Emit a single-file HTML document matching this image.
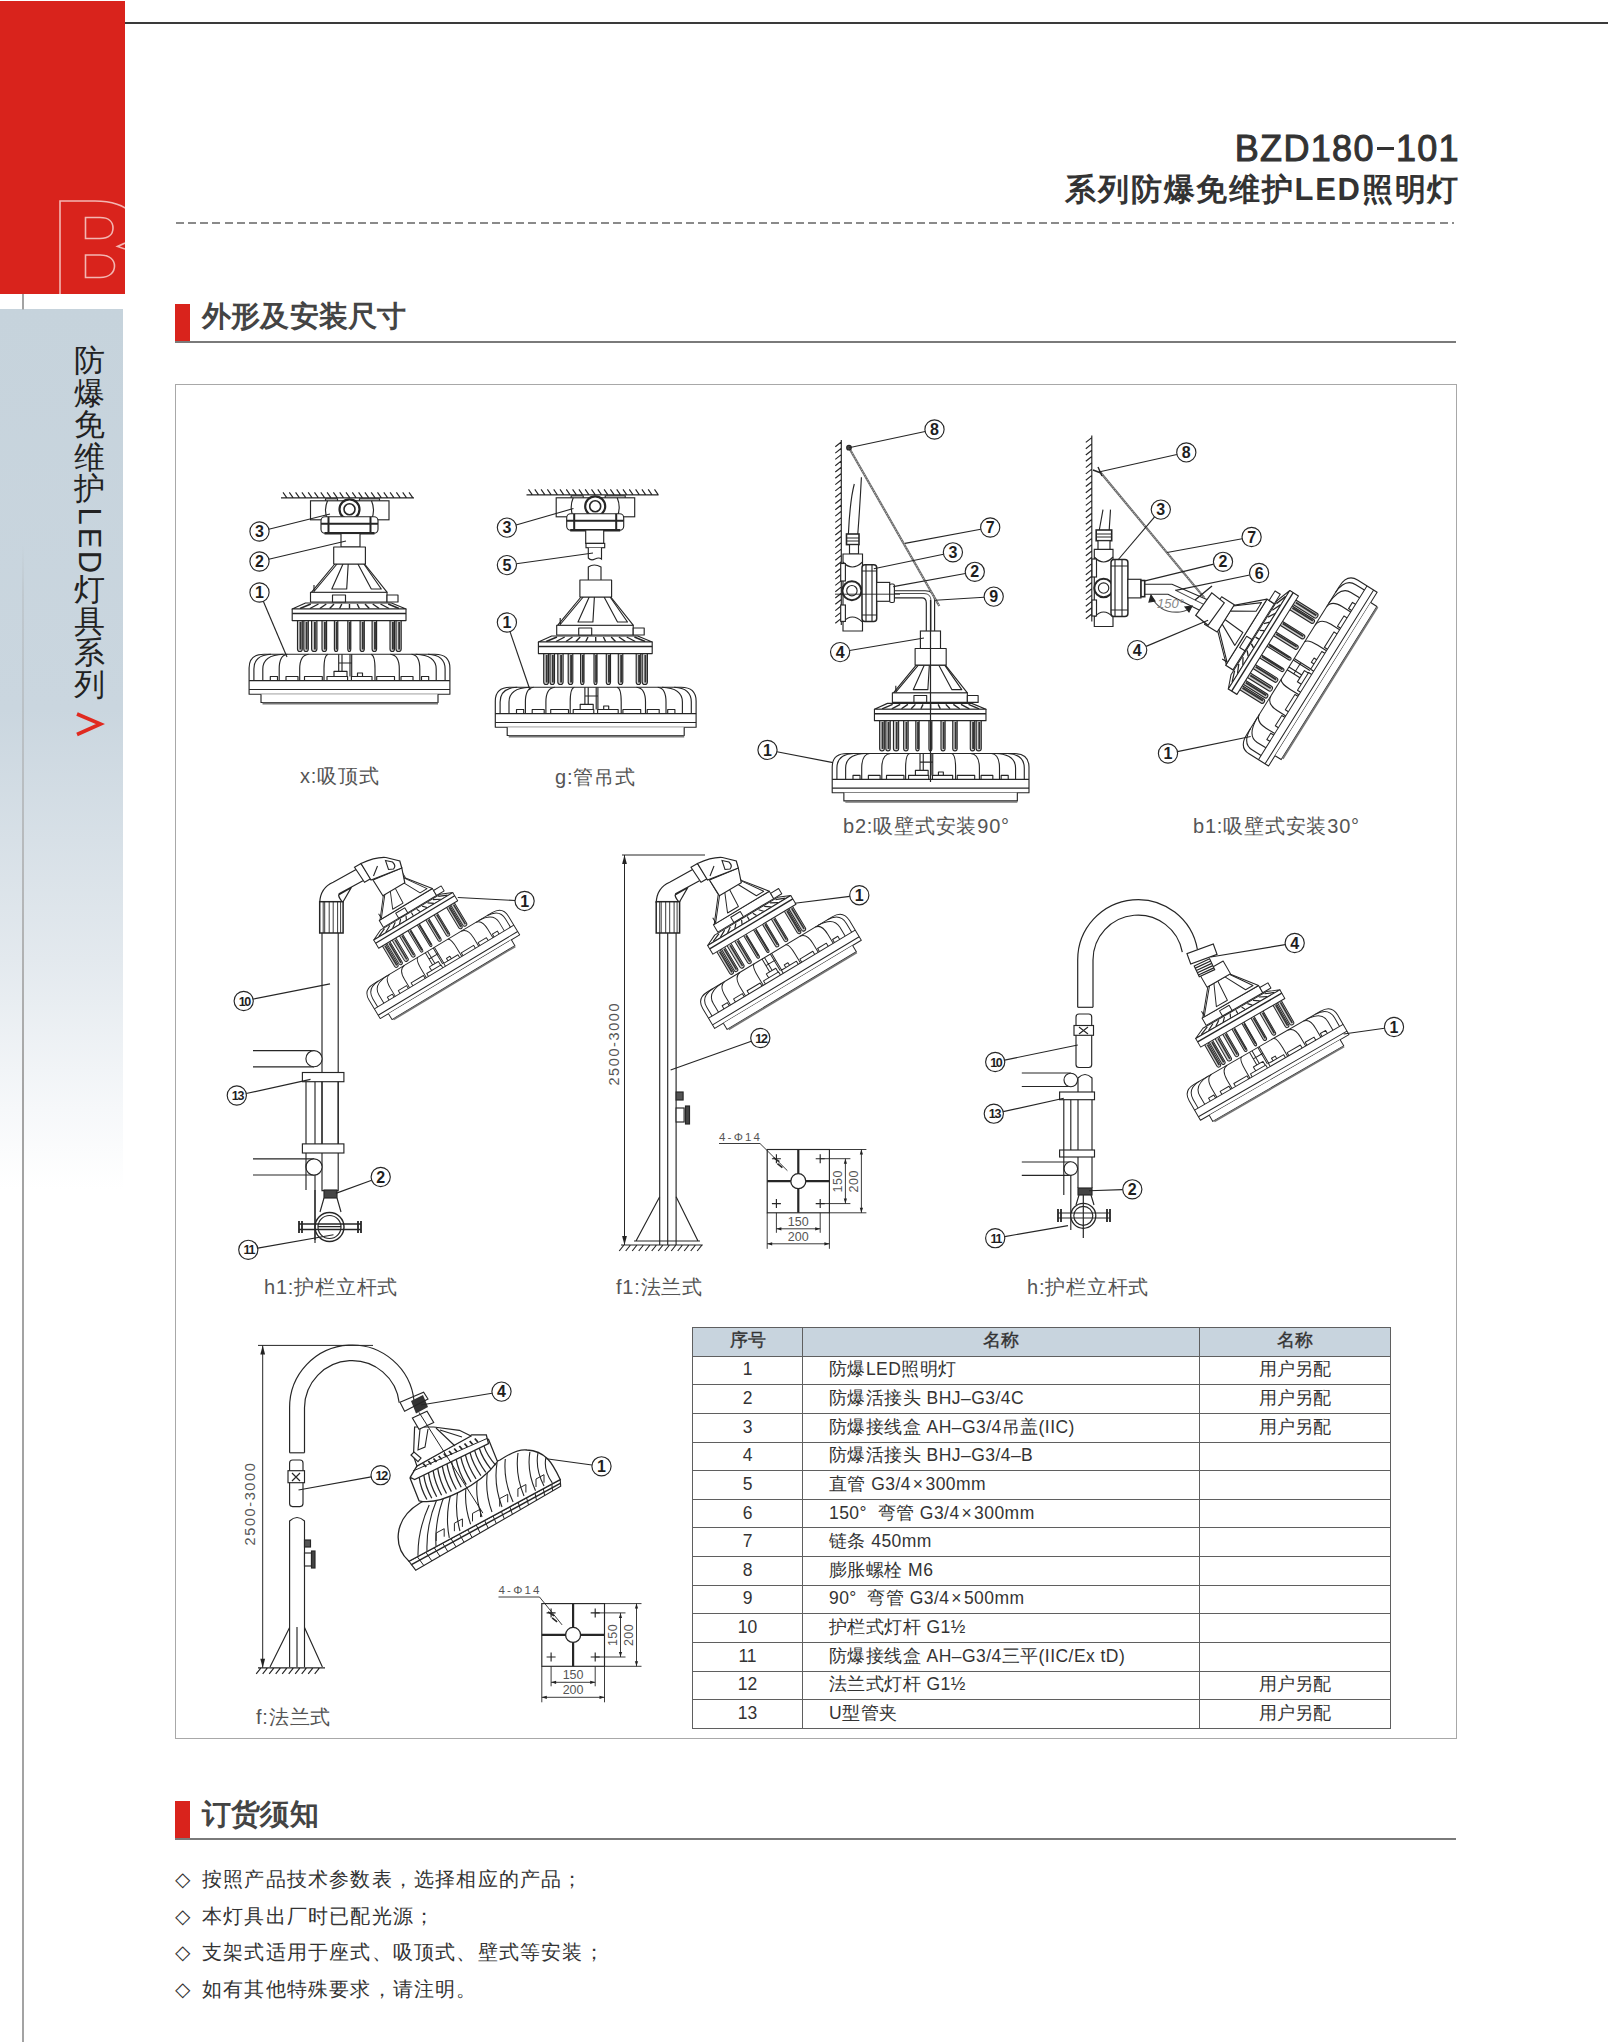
<!DOCTYPE html>
<html><head><meta charset="utf-8">
<style>
*{margin:0;padding:0;box-sizing:border-box}
html,body{width:1608px;height:2042px;overflow:hidden;background:#fff}
body{position:relative;font-family:"Liberation Sans",sans-serif;color:#333}
.abs{position:absolute}
#redblk{left:0;top:1px;width:125px;height:293px;background:#d9231c}
#topline{left:125px;top:22px;width:1483px;height:2px;background:#3a3a3a}
#vline{left:22px;top:294px;width:2px;height:1748px;background:linear-gradient(to bottom,#a3a3a3 0,#a3a3a3 15px,rgba(163,163,163,0) 16px,rgba(163,163,163,0) 250px,rgba(163,163,163,0.25) 300px,#a3a3a3 800px)}
#side{left:0;top:309px;width:123px;height:880px;background:linear-gradient(to bottom,#c6d3dc 0px,#cad6df 400px,#e3e9ee 650px,#f6f8fa 800px,#ffffff 880px)}
.sg{position:absolute;left:64px;width:50px;height:40px;line-height:40px;text-align:center;font-size:31px;color:#222}
.sg.r{transform:rotate(90deg)}
.ttl1{right:148px;top:127.5px;font-size:36px;font-weight:normal;-webkit-text-stroke:1px #333;color:#333;letter-spacing:1.35px}
.ttl2{right:148px;top:168.5px;font-size:31px;font-weight:bold;color:#333;letter-spacing:1.75px}
#dash{left:176px;top:222px;width:1278px;height:2px;background:repeating-linear-gradient(to right,#8a8a8a 0 8px,transparent 8px 12.15px)}
.secbar{width:15px;height:38px;background:#d9231c}
.secline{height:2px;background:#7a7a7a}
.sectxt{font-size:29px;color:#444;font-weight:bold;letter-spacing:0.2px}
#box{left:175px;top:384px;width:1282px;height:1355px;border:1.5px solid #a8a8a8}
.cap{font-size:20px;color:#555;white-space:nowrap;letter-spacing:0.8px}
.bul{left:175px;font-size:20px;color:#333;letter-spacing:1.2px;white-space:nowrap}
.bul i{font-style:normal;display:inline-block;width:27px}
table{position:absolute;left:692px;top:1327px;width:699px;border-collapse:collapse;font-size:17.5px;color:#333}
td,th{border:1.3px solid #5f5f5f;height:28.64px;padding:0 0 2px 0;font-weight:normal;line-height:22px}
th{background:#c8d4de;-webkit-text-stroke:0.35px #333;padding-bottom:3px}
td.c{text-align:center}
td.l{padding-left:26px;text-align:left;letter-spacing:0.45px}
svg{position:absolute;left:0;top:0}
</style></head><body>
<div id="redblk" class="abs"></div>
<div id="topline" class="abs"></div>
<div id="side" class="abs"></div>
<div id="vline" class="abs"></div>
<svg width="1608" height="2042" viewBox="0 0 1608 2042" style="z-index:1">
<clipPath id="bclip"><rect x="0" y="0" width="125" height="294"/></clipPath>
<g fill="none" stroke="#f3b6b2" stroke-width="1.6" clip-path="url(#bclip)">
<path d="M60 294 V201 H95 C112 201 125 206 130 212"/>
<path d="M85.5 217.5 H100 C109 217.5 113 222 113 228 C113 234 109 238.5 100 238.5 H85.5 Z"/>
<path d="M85.5 255 H100 C110 255 114.5 260 114.5 266 C114.5 272 110 277.5 100 277.5 H85.5 Z"/>
<path d="M125 243 L117.5 246.5 L125 249"/>
</g>
<path d="M77 714 L100.5 724 L77 734.5" fill="none" stroke="#e02a20" stroke-width="3.6" stroke-linejoin="miter"/>
</svg>
<div class="sg" style="top:340.9px">防</div><div class="sg" style="top:373.5px">爆</div><div class="sg" style="top:404.5px">免</div><div class="sg" style="top:437.5px">维</div><div class="sg" style="top:469.2px">护</div><div class="sg r" style="top:495.9px">L</div><div class="sg r" style="top:517.5px">E</div><div class="sg r" style="top:542.0px">D</div><div class="sg" style="top:569.5px">灯</div><div class="sg" style="top:602.2px">具</div><div class="sg" style="top:633.0px">系</div><div class="sg" style="top:664.9px">列</div>

<div class="abs ttl1">BZD180<span style="display:inline-block;width:17px;height:2.8px;background:#333;vertical-align:11px;margin:0 2px"></span>101</div>
<div class="abs ttl2">系列防爆免维护LED照明灯</div>
<div id="dash" class="abs"></div>

<div class="abs secbar" style="left:175px;top:304px"></div>
<div class="abs secline" style="left:175px;top:341px;width:1281px"></div>
<div class="abs sectxt" style="left:202px;top:297px">外形及安装尺寸</div>

<div id="box" class="abs"></div>

<div class="abs secbar" style="left:175px;top:1801px"></div>
<div class="abs secline" style="left:175px;top:1838px;width:1281px"></div>
<div class="abs sectxt" style="left:202px;top:1795px">订货须知</div>

<div class="abs bul" style="top:1866px"><i>◇</i>按照产品技术参数表，选择相应的产品；</div>
<div class="abs bul" style="top:1903px"><i>◇</i>本灯具出厂时已配光源；</div>
<div class="abs bul" style="top:1939px"><i>◇</i>支架式适用于座式、吸顶式、壁式等安装；</div>
<div class="abs bul" style="top:1976px"><i>◇</i>如有其他特殊要求，请注明。</div>

<table>
<tr><th style="width:110px">序号</th><th style="width:397px">名称</th><th>名称</th></tr>
<tr><td class="c">1</td><td class="l">防爆LED照明灯</td><td class="c">用户另配</td></tr>
<tr><td class="c">2</td><td class="l">防爆活接头 BHJ–G3/4C</td><td class="c">用户另配</td></tr>
<tr><td class="c">3</td><td class="l">防爆接线盒 AH–G3/4吊盖(IIC)</td><td class="c">用户另配</td></tr>
<tr><td class="c">4</td><td class="l">防爆活接头 BHJ–G3/4–B</td><td class="c"></td></tr>
<tr><td class="c">5</td><td class="l">直管 G3/4&#8202;×&#8202;300mm</td><td class="c"></td></tr>
<tr><td class="c">6</td><td class="l">150°&nbsp; 弯管 G3/4&#8202;×&#8202;300mm</td><td class="c"></td></tr>
<tr><td class="c">7</td><td class="l">链条 450mm</td><td class="c"></td></tr>
<tr><td class="c">8</td><td class="l">膨胀螺栓 M6</td><td class="c"></td></tr>
<tr><td class="c">9</td><td class="l">90°&nbsp; 弯管 G3/4&#8202;×&#8202;500mm</td><td class="c"></td></tr>
<tr><td class="c">10</td><td class="l">护栏式灯杆 G1½</td><td class="c"></td></tr>
<tr><td class="c">11</td><td class="l">防爆接线盒 AH–G3/4三平(IIC/Ex tD)</td><td class="c"></td></tr>
<tr><td class="c">12</td><td class="l">法兰式灯杆 G1½</td><td class="c">用户另配</td></tr>
<tr><td class="c">13</td><td class="l">U型管夹</td><td class="c">用户另配</td></tr>
</table>

<svg width="1608" height="2042" viewBox="0 0 1608 2042" style="z-index:2">
<defs><g id="lamp" stroke="#262626" stroke-width="1.15" fill="#fff" stroke-linejoin="round">
<path d="M-52.0 73.6 V102 Q-52.0 104.5 -49.6 104.5 Q-47.2 104.5 -47.2 102 V73.6" fill="#cfcfcf"/>
<path d="M-49.0 75 V102.5" fill="none" stroke-width="1.9" stroke="#333"/>
<path d="M-45.7 73.6 V102 Q-45.7 104.5 -43.5 104.5 Q-41.2 104.5 -41.2 102 V73.6" fill="#cfcfcf"/>
<path d="M-42.9 75 V102.5" fill="none" stroke-width="1.9" stroke="#333"/>
<path d="M-37.9 73.6 V102 Q-37.9 104.5 -35.2 104.5 Q-32.6 104.5 -32.6 102 V73.6" fill="#cfcfcf"/>
<path d="M-34.6 75 V102.5" fill="none" stroke-width="1.9" stroke="#333"/>
<path d="M-27.5 73.6 V102 Q-27.5 104.5 -25.2 104.5 Q-22.9 104.5 -22.9 102 V73.6" fill="#cfcfcf"/>
<path d="M-24.6 75 V102.5" fill="none" stroke-width="1.9" stroke="#333"/>
<path d="M-15.1 73.6 V102 Q-15.1 104.5 -13.4 104.5 Q-11.7 104.5 -11.7 102 V73.6" fill="#cfcfcf"/>
<path d="M-12.8 75 V102.5" fill="none" stroke-width="1.9" stroke="#333"/>
<path d="M-1.7 73.6 V102 Q-1.7 104.5 -0.2 104.5 Q1.3 104.5 1.3 102 V73.6" fill="#cfcfcf"/>
<path d="M0.4 75 V102.5" fill="none" stroke-width="1.9" stroke="#333"/>
<path d="M10.6 73.6 V102 Q10.6 104.5 12.7 104.5 Q14.8 104.5 14.8 102 V73.6" fill="#cfcfcf"/>
<path d="M13.3 75 V102.5" fill="none" stroke-width="1.9" stroke="#333"/>
<path d="M22.6 73.6 V102 Q22.6 104.5 24.9 104.5 Q27.1 104.5 27.1 102 V73.6" fill="#cfcfcf"/>
<path d="M25.5 75 V102.5" fill="none" stroke-width="1.9" stroke="#333"/>
<path d="M40.5 73.6 V102 Q40.5 104.5 42.8 104.5 Q45.0 104.5 45.0 102 V73.6" fill="#cfcfcf"/>
<path d="M43.4 75 V102.5" fill="none" stroke-width="1.9" stroke="#333"/>
<path d="M46.5 73.6 V102 Q46.5 104.5 49.1 104.5 Q51.7 104.5 51.7 102 V73.6" fill="#cfcfcf"/>
<path d="M49.7 75 V102.5" fill="none" stroke-width="1.9" stroke="#333"/>
<path d="M-100.4 147.2 V121 Q-100.4 107.2 -85.3 107.2 H85.3 Q100.4 107.2 100.4 121 V147.2 Z"/>
<path d="M-100.4 133.6 H100.4 M-100.4 142.5 H100.4" fill="none"/>
<path d="M-95.6 133.6 V122 Q-95.6 108 -78.5 107.2 M95.6 133.6 V122 Q95.6 108 78.5 107.2 M-86.7 133.6 V122 Q-86.7 108 -66.2 107.2 M86.7 133.6 V122 Q86.7 108 66.2 107.2 M-70.3 133.6 V122 Q-70.3 108 -62.1 107.2 M70.3 133.6 V122 Q70.3 108 62.1 107.2 M-49.8 133.6 V122 Q-49.8 108 -40.9 107.2 M49.8 133.6 V122 Q49.8 108 40.9 107.2 M-25.5 133.6 V122 Q-25.5 108 -21.4 107.2 M25.5 133.6 V122 Q25.5 108 21.4 107.2 " fill="none"/>
<path d="M-79.2 133.6 V129.5 H-72.0 V133.6 M-63.5 133.6 V129.5 H-51.5 V133.6 M-45.0 133.6 V129.5 H-27.2 V133.6 M-22.5 133.6 V129.5 H-1.9 V133.6 M1.9 133.6 V129.5 H22.5 V133.6 M27.2 133.6 V129.5 H45.0 V133.6 M51.5 133.6 V129.5 H63.5 V133.6 M72.0 133.6 V129.5 H79.2 V133.6 M-15.5 129.5 V124.3 H-2.5 V129.5 M-10.8 107.2 V124.3 M-7.5 107.2 V124.3 M0.5 107.2 V129.5 M2.2 107.2 V129.5 M-10.8 116 H2.2 M8 129.5 V126 H13 V129.5" fill="none"/>
<path d="M-88.5 147.2 V155.5 H88.5 V147.2" />
<path d="M-87 156.5 H88.5" fill="none" stroke="#777" stroke-width="2"/>
<path d="M-57.3 62 L-44 56 H42 L56.5 62 Z"/>
<path d="M-38.7 57 L-49.5 61.5 M-31.0 57 L-39.6 61.5 M-23.2 57 L-29.7 61.5 M-15.5 57 L-19.8 61.5 M-7.7 57 L-9.9 61.5 M0.0 57 L0.0 61.5 M7.7 57 L9.9 61.5 M15.5 57 L19.8 61.5 M23.2 57 L29.7 61.5 M31.0 57 L39.6 61.5 M38.7 57 L49.5 61.5 " fill="none" stroke-width="1.4"/>
<rect x="-57.3" y="62" width="113.8" height="11.6"/>
<path d="M-57.3 66.5 H56.5" fill="none" stroke-width="1.6"/>
<rect x="-39" y="45.2" width="76.5" height="9.8"/>
<rect x="37.5" y="48" width="11" height="7"/>
<rect x="-17" y="48" width="13" height="7"/>
<path d="M-14.7 17 H15.1 L37.5 45.2 H-37.9 Z"/>
<path d="M-6.5 17 L-17.7 42 H-2.8 L-1.3 17 M8.4 17 L21.8 42 H31.8 L14.4 17 M-12.5 17 L-35.5 44.5 M-35.5 38 V45" fill="none"/>
<rect x="-15.8" y="0" width="31.7" height="17"/>
</g></defs>
<g stroke="#262626" stroke-width="1.15" fill="#fff" font-family="Liberation Sans, sans-serif" font-weight="bold" text-anchor="middle">
<path d="M281.0 497.8 H414.0 M283.0 492.3 L286.9 497.8 M289.3 492.3 L293.2 497.8 M295.6 492.3 L299.5 497.8 M301.9 492.3 L305.8 497.8 M308.2 492.3 L312.1 497.8 M314.5 492.3 L318.4 497.8 M320.8 492.3 L324.7 497.8 M327.1 492.3 L331.0 497.8 M333.4 492.3 L337.3 497.8 M339.7 492.3 L343.6 497.8 M346.0 492.3 L349.9 497.8 M352.3 492.3 L356.2 497.8 M358.6 492.3 L362.5 497.8 M364.9 492.3 L368.8 497.8 M371.2 492.3 L375.1 497.8 M377.5 492.3 L381.4 497.8 M383.8 492.3 L387.7 497.8 M390.1 492.3 L394.0 497.8 M396.4 492.3 L400.3 497.8 M402.7 492.3 L406.6 497.8 M409.0 492.3 L412.9 497.8 " fill="none"/>
<g transform="translate(349.5 497.8)"><rect x="-24" y="1" width="12" height="5"/><rect x="10" y="1" width="20" height="5"/><rect x="-39" y="3" width="78.5" height="19"/><path d="M-22 3 Q-26 12.5 -22 22 M22 3 Q26 12.5 22 22" fill="none"/><circle cx="0" cy="11.5" r="10" stroke-width="2.2"/><circle cx="0" cy="11.5" r="5.5" stroke-width="1.6"/><rect x="-28.5" y="19" width="57" height="16.5" rx="4"/><path d="M-21 19 V35.5 M21 19 V35.5 M-28.5 26 H28.5" fill="none" stroke-width="2"/><path d="M-25 35.5 H25" fill="none" stroke-width="2.5"/></g>
<rect x="341" y="533.5" width="19" height="13.5"/>
<use href="#lamp" transform="translate(349.5 547)"/>
<g fill="#fff">
<line x1="268.8" y1="529.2" x2="330.0" y2="514.0"/><circle cx="259.5" cy="531.5" r="9.6" fill="#fff"/><text x="259.5" y="537.1" letter-spacing="0" fill="#1e1e1e" stroke="none" font-size="16.0">3</text>
<line x1="268.8" y1="559.3" x2="346.0" y2="541.0"/><circle cx="259.5" cy="561.5" r="9.6" fill="#fff"/><text x="259.5" y="567.1" letter-spacing="0" fill="#1e1e1e" stroke="none" font-size="16.0">2</text>
<line x1="263.3" y1="601.3" x2="287.0" y2="657.0"/><circle cx="259.5" cy="592.5" r="9.6" fill="#fff"/><text x="259.5" y="598.1" letter-spacing="0" fill="#1e1e1e" stroke="none" font-size="16.0">1</text>
</g>
<path d="M526.5 494.8 H658.6 M528.5 489.3 L532.4 494.8 M534.8 489.3 L538.6 494.8 M541.1 489.3 L544.9 494.8 M547.4 489.3 L551.2 494.8 M553.7 489.3 L557.5 494.8 M560.0 489.3 L563.8 494.8 M566.3 489.3 L570.1 494.8 M572.6 489.3 L576.4 494.8 M578.9 489.3 L582.7 494.8 M585.2 489.3 L589.0 494.8 M591.5 489.3 L595.3 494.8 M597.8 489.3 L601.6 494.8 M604.1 489.3 L607.9 494.8 M610.4 489.3 L614.2 494.8 M616.7 489.3 L620.5 494.8 M623.0 489.3 L626.8 494.8 M629.3 489.3 L633.1 494.8 M635.6 489.3 L639.4 494.8 M641.9 489.3 L645.7 494.8 M648.2 489.3 L652.0 494.8 M654.5 489.3 L658.3 494.8 " fill="none"/>
<g transform="translate(595.2 494.8)"><rect x="-24" y="1" width="12" height="5"/><rect x="10" y="1" width="20" height="5"/><rect x="-39" y="3" width="78.5" height="19"/><path d="M-22 3 Q-26 12.5 -22 22 M22 3 Q26 12.5 22 22" fill="none"/><circle cx="0" cy="11.5" r="10" stroke-width="2.2"/><circle cx="0" cy="11.5" r="5.5" stroke-width="1.6"/><rect x="-28.5" y="19" width="57" height="16.5" rx="4"/><path d="M-21 19 V35.5 M21 19 V35.5 M-28.5 26 H28.5" fill="none" stroke-width="2"/><path d="M-25 35.5 H25" fill="none" stroke-width="2.5"/></g>
<rect x="585.7" y="530" width="18" height="13.4"/><rect x="586" y="543.4" width="18.7" height="4.3"/>
<path d="M588.3 547.7 V558 Q591 561 595 559 Q599 557 601.5 559 V547.7" />
<path d="M588.3 580 V567 Q594 563 601 567 V580" />
<use href="#lamp" transform="translate(595.7 580)"/>
<line x1="516.1" y1="525.0" x2="573.5" y2="508.5"/><circle cx="506.9" cy="527.6" r="9.6" fill="#fff"/><text x="506.9" y="533.2" letter-spacing="0" fill="#1e1e1e" stroke="none" font-size="16.0">3</text>
<line x1="516.4" y1="563.8" x2="593.0" y2="553.0"/><circle cx="506.9" cy="565.1" r="9.6" fill="#fff"/><text x="506.9" y="570.7" letter-spacing="0" fill="#1e1e1e" stroke="none" font-size="16.0">5</text>
<line x1="510.0" y1="631.6" x2="530.0" y2="690.0"/><circle cx="506.9" cy="622.5" r="9.6" fill="#fff"/><text x="506.9" y="628.1" letter-spacing="0" fill="#1e1e1e" stroke="none" font-size="16.0">1</text>
<path d="M841.3 440.0 V625.0 M835.3 446.8 L841.3 442.0 M835.3 453.1 L841.3 448.3 M835.3 459.4 L841.3 454.6 M835.3 465.7 L841.3 460.9 M835.3 472.0 L841.3 467.2 M835.3 478.3 L841.3 473.5 M835.3 484.6 L841.3 479.8 M835.3 490.9 L841.3 486.1 M835.3 497.2 L841.3 492.4 M835.3 503.5 L841.3 498.7 M835.3 509.8 L841.3 505.0 M835.3 516.1 L841.3 511.3 M835.3 522.4 L841.3 517.6 M835.3 528.7 L841.3 523.9 M835.3 535.0 L841.3 530.2 M835.3 541.3 L841.3 536.5 M835.3 547.6 L841.3 542.8 M835.3 553.9 L841.3 549.1 M835.3 560.2 L841.3 555.4 M835.3 566.5 L841.3 561.7 M835.3 572.8 L841.3 568.0 M835.3 579.1 L841.3 574.3 M835.3 585.4 L841.3 580.6 M835.3 591.7 L841.3 586.9 M835.3 598.0 L841.3 593.2 M835.3 604.3 L841.3 599.5 M835.3 610.6 L841.3 605.8 M835.3 616.9 L841.3 612.1 M835.3 623.2 L841.3 618.4 " fill="none"/>
<path d="M848.4 534 Q850 500 854.3 484 M857.8 534 Q860 505 861.4 477.3" fill="none"/>
<rect x="846.5" y="534" width="12.5" height="10.6" stroke-width="1.6"/><path d="M846.5 538 H859 M846.5 541 H859" fill="none"/>
<rect x="849.5" y="544.6" width="9" height="9.4"/>
<path d="M843 554 H862.5 V631 H843 Z"/>
<path d="M843 562 Q852 572 862.5 562 M843 622 Q852 612 862.5 622" fill="none"/>
<rect x="840.7" y="563.5" width="4.7" height="17.5"/><rect x="840.7" y="605" width="4.7" height="16.4"/>
<circle cx="851.9" cy="590.7" r="9.5" stroke-width="2"/><circle cx="851.9" cy="590.7" r="5.2"/>
<rect x="862" y="564.7" width="14.7" height="56.7" rx="3" stroke-width="1.5"/>
<path d="M866 564.7 V621.4 M872 564.7 V621.4 M862 571 H876.7 M862 615 H876.7" fill="none"/>
<rect x="876.7" y="582.4" width="13" height="18.9"/>
<rect x="889.7" y="584" width="4.7" height="18.5" rx="1.5"/>
<path d="M894.4 590.7 H925 Q934.6 590.7 934.6 600 V631 M894.4 597.8 H922 Q926.3 597.8 926.3 603 V631" fill="none"/>
<path d="M894.4 593.5 H924 Q931 593.5 931 601 V631" fill="none" stroke-width="0.8"/>
<path d="M835 594.2 H900" fill="none" stroke-width="0.9"/>
<path d="M849 447.7 L939.3 606" fill="none" stroke="#666" stroke-width="2.2"/>
<path d="M849 447.7 L939.3 606" fill="none" stroke="#ddd" stroke-width="0.7" stroke-dasharray="1.5 1.5"/>
<circle cx="849" cy="447.7" r="2.3" fill="#444"/>
<rect x="920.4" y="631" width="20.1" height="18.8"/>
<use href="#lamp" transform="translate(930.6 648.5) scale(0.98)"/>
<path d="M930.5 600 V782" fill="none" stroke-width="1.2"/>
<line x1="925.1" y1="431.5" x2="849.0" y2="447.7"/><circle cx="934.5" cy="429.5" r="9.6" fill="#fff"/><text x="934.5" y="435.1" letter-spacing="0" fill="#1e1e1e" stroke="none" font-size="16.0">8</text>
<line x1="980.8" y1="529.3" x2="905.0" y2="543.4"/><circle cx="990.2" cy="527.5" r="9.6" fill="#fff"/><text x="990.2" y="533.1" letter-spacing="0" fill="#1e1e1e" stroke="none" font-size="16.0">7</text>
<line x1="943.5" y1="554.3" x2="873.8" y2="568.8"/><circle cx="952.9" cy="552.3" r="9.6" fill="#fff"/><text x="952.9" y="557.9" letter-spacing="0" fill="#1e1e1e" stroke="none" font-size="16.0">3</text>
<line x1="965.4" y1="573.5" x2="893.3" y2="586.6"/><circle cx="974.8" cy="571.8" r="9.6" fill="#fff"/><text x="974.8" y="577.4" letter-spacing="0" fill="#1e1e1e" stroke="none" font-size="16.0">2</text>
<line x1="984.1" y1="597.2" x2="935.2" y2="600.2"/><circle cx="993.7" cy="596.6" r="9.6" fill="#fff"/><text x="993.7" y="602.2" letter-spacing="0" fill="#1e1e1e" stroke="none" font-size="16.0">9</text>
<line x1="849.6" y1="650.5" x2="924.0" y2="638.0"/><circle cx="840.1" cy="652.1" r="9.6" fill="#fff"/><text x="840.1" y="657.7" letter-spacing="0" fill="#1e1e1e" stroke="none" font-size="16.0">4</text>
<line x1="776.9" y1="751.7" x2="833.0" y2="762.6"/><circle cx="767.5" cy="749.9" r="9.6" fill="#fff"/><text x="767.5" y="755.5" letter-spacing="0" fill="#1e1e1e" stroke="none" font-size="16.0">1</text>
<path d="M1091.8 435.6 V621.5 M1085.8 442.4 L1091.8 437.6 M1085.8 448.7 L1091.8 443.9 M1085.8 455.0 L1091.8 450.2 M1085.8 461.3 L1091.8 456.5 M1085.8 467.6 L1091.8 462.8 M1085.8 473.9 L1091.8 469.1 M1085.8 480.2 L1091.8 475.4 M1085.8 486.5 L1091.8 481.7 M1085.8 492.8 L1091.8 488.0 M1085.8 499.1 L1091.8 494.3 M1085.8 505.4 L1091.8 500.6 M1085.8 511.7 L1091.8 506.9 M1085.8 518.0 L1091.8 513.2 M1085.8 524.3 L1091.8 519.5 M1085.8 530.6 L1091.8 525.8 M1085.8 536.9 L1091.8 532.1 M1085.8 543.2 L1091.8 538.4 M1085.8 549.5 L1091.8 544.7 M1085.8 555.8 L1091.8 551.0 M1085.8 562.1 L1091.8 557.3 M1085.8 568.4 L1091.8 563.6 M1085.8 574.7 L1091.8 569.9 M1085.8 581.0 L1091.8 576.2 M1085.8 587.3 L1091.8 582.5 M1085.8 593.6 L1091.8 588.8 M1085.8 599.9 L1091.8 595.1 M1085.8 606.2 L1091.8 601.4 M1085.8 612.5 L1091.8 607.7 M1085.8 618.8 L1091.8 614.0 " fill="none"/>
<path d="M1099.3 530 L1103 509.6 M1109.2 530 L1110.5 509.6" fill="none"/>
<rect x="1096.2" y="530" width="15.5" height="10.7" stroke-width="1.6"/><path d="M1096.2 534 H1111.7 M1096.2 537 H1111.7" fill="none"/>
<rect x="1098" y="540.7" width="12" height="10"/>
<path d="M1094.3 549.4 H1113 V626.5 H1094.3 Z"/>
<path d="M1094.3 557 Q1103.6 567 1113 557 M1094.3 617 Q1103.6 607 1113 617" fill="none"/>
<rect x="1092" y="559" width="4.5" height="18"/><rect x="1092" y="600" width="4.5" height="16"/>
<circle cx="1103.6" cy="588" r="9.3" stroke-width="2"/><circle cx="1103.6" cy="588" r="5.2"/>
<rect x="1111" y="559.4" width="16.9" height="57.2" rx="3" stroke-width="1.5"/>
<path d="M1115 559.4 V616.6 M1122 559.4 V616.6 M1111 566 H1127.9 M1111 610 H1127.9" fill="none"/>
<rect x="1127.9" y="579.3" width="13.1" height="18.6"/>
<rect x="1141" y="580.5" width="3.7" height="16.2" stroke-width="1.6"/>
<path d="M1144.7 584.2 H1172 L1208 600 M1144.7 594.2 H1168 L1203 612" fill="none"/>
<path d="M1175 590 L1207 606" fill="none" stroke-width="0.9"/>
<path d="M1151 596 Q1160 614 1180 612 Q1188 611 1192 606" fill="none" stroke="#555"/>
<path d="M1151 595 L1149 602 L1155 601 Z M1192 606 L1185 607 L1189 612 Z" fill="#222"/>
<text x="1170.5" y="607.5" fill="#888" stroke="none" font-size="13" font-weight="normal" font-style="italic">150°</text>
<path d="M1099.9 471.7 L1204.4 597.9" fill="none" stroke="#666" stroke-width="2.2"/>
<path d="M1099.9 471.7 L1204.4 597.9" fill="none" stroke="#ddd" stroke-width="0.7" stroke-dasharray="1.5 1.5"/>
<path d="M1093 470 L1101 473 M1098 467 L1102 476 M1195 600 L1212 586" fill="none" stroke-width="1.4"/>
<use href="#lamp" transform="translate(1213 610.5) rotate(-58) scale(1.02 0.88)"/>
<path d="M1195.7 615.3 L1211.8 592.9 L1224.3 602.9 L1208 625.3 Z"/>
<line x1="1176.9" y1="454.5" x2="1099.9" y2="471.7"/><circle cx="1186.3" cy="452.4" r="9.6" fill="#fff"/><text x="1186.3" y="458.0" letter-spacing="0" fill="#1e1e1e" stroke="none" font-size="16.0">8</text>
<line x1="1154.6" y1="516.9" x2="1117.9" y2="560.0"/><circle cx="1160.8" cy="509.6" r="9.6" fill="#fff"/><text x="1160.8" y="515.2" letter-spacing="0" fill="#1e1e1e" stroke="none" font-size="16.0">3</text>
<line x1="1242.2" y1="538.7" x2="1167.0" y2="552.5"/><circle cx="1251.6" cy="537.0" r="9.6" fill="#fff"/><text x="1251.6" y="542.6" letter-spacing="0" fill="#1e1e1e" stroke="none" font-size="16.0">7</text>
<line x1="1213.7" y1="564.1" x2="1144.0" y2="581.1"/><circle cx="1223.0" cy="561.8" r="9.6" fill="#fff"/><text x="1223.0" y="567.4" letter-spacing="0" fill="#1e1e1e" stroke="none" font-size="16.0">2</text>
<line x1="1249.7" y1="575.0" x2="1175.8" y2="590.4"/><circle cx="1259.1" cy="573.0" r="9.6" fill="#fff"/><text x="1259.1" y="578.6" letter-spacing="0" fill="#1e1e1e" stroke="none" font-size="16.0">6</text>
<line x1="1146.1" y1="646.4" x2="1208.1" y2="620.3"/><circle cx="1137.2" cy="650.1" r="9.6" fill="#fff"/><text x="1137.2" y="655.7" letter-spacing="0" fill="#1e1e1e" stroke="none" font-size="16.0">4</text>
<line x1="1177.4" y1="751.6" x2="1250.7" y2="736.5"/><circle cx="1168.0" cy="753.5" r="9.6" fill="#fff"/><text x="1168.0" y="759.1" letter-spacing="0" fill="#1e1e1e" stroke="none" font-size="16.0">1</text>
<path d="M322 932 V1190.6 H338.2 V932 M331 1190.6 V1191" fill="none"/>
<path d="M253 1050.6 H314 M253 1066.8 H314 M253 1158.8 H314 M253 1175 H314" fill="none"/>
<circle cx="314" cy="1058.7" r="8.1" fill="#fff"/><circle cx="314" cy="1167" r="8.1" fill="#fff"/>
<path d="M306 1081.7 V1190 M315 1081.7 V1143.9 M315 1175 V1240" fill="none"/>
<rect x="302.4" y="1072.5" width="41.5" height="9.2" fill="#fff"/><rect x="302.4" y="1143.9" width="41.5" height="9.1" fill="#fff"/>
<path d="M322 1081.7 V1143.9 M338.2 1081.7 V1143.9" fill="none"/>
<rect x="324" y="1190" width="13" height="8" fill="#444"/>
<path d="M324 1198 L320 1212 M337 1198 L341 1212" fill="none"/>
<circle cx="329.5" cy="1227" r="14.5" fill="#fff" stroke-width="1.4"/><circle cx="329.5" cy="1227" r="11.5" fill="none"/>
<path d="M299 1224 H361 M299 1229.5 H361 M318 1226.7 H341" fill="none" stroke-width="1.3"/>
<path d="M299 1221 V1233 M302 1221 V1233 M358 1221 V1233 M361 1221 V1233" fill="none" stroke-width="1.8"/>
<path d="M315 1190 V1243" fill="none"/>
<g transform="translate(-336.5 0)"><path d="M656.2 903 C656.5 893 661 886 669.7 882.3 L693.5 868.9 M679.6 903 C676.5 899 674 896 675.6 893.8 L699.5 880.8 M675.6 894.8 L687.6 887.8 L679.6 901.7" fill="none" stroke-width="1.2"/><rect x="656.2" y="901.7" width="23.4" height="31.3" fill="#fff" stroke-width="1.5"/><path d="M659.7 902 V933 M661.2 902 V933 M665.7 902 V933 M669.7 902 V933 M674.1 902 V933 M677.1 902 V933" fill="none" stroke-width="0.9"/></g>
<use href="#lamp" transform="translate(387 872) rotate(-31) scale(0.81 0.83)"/>
<g transform="translate(-336.5 0)"><path d="M709.5 880 L719.4 895.8 L741.3 882.8 L738.3 868 Z" fill="#fff"/><path d="M691 867.3 L697.5 863.5 L707.5 878.5 L701 882.3 Z" fill="#fff"/><path d="M697.5 863.5 C705 860 715 857 722.4 857.5 L736.3 861 L738.3 868 L707.5 880 Z" fill="#fff" stroke-width="1.2"/><path d="M722 860.5 L729 862 Q733 866 730 869 L725 869.5 Z M714 866 L710 876" fill="none" stroke-width="1.1"/></g>
<line x1="515.0" y1="900.5" x2="457.8" y2="897.5"/><circle cx="524.6" cy="901.0" r="9.6" fill="#fff"/><text x="524.6" y="906.6" letter-spacing="0" fill="#1e1e1e" stroke="none" font-size="16.0">1</text>
<line x1="253.1" y1="999.1" x2="330.0" y2="983.9"/><circle cx="243.7" cy="1001.0" r="9.6" fill="#fff"/><text x="244.3" y="1005.6" letter-spacing="-1.3" fill="#1e1e1e" stroke="none" font-size="12.5">10</text>
<line x1="246.2" y1="1093.5" x2="310.5" y2="1079.4"/><circle cx="236.8" cy="1095.5" r="9.6" fill="#fff"/><text x="237.4" y="1100.1" letter-spacing="-1.3" fill="#1e1e1e" stroke="none" font-size="12.5">13</text>
<line x1="371.7" y1="1180.3" x2="335.8" y2="1193.4"/><circle cx="380.7" cy="1177.0" r="9.6" fill="#fff"/><text x="380.7" y="1182.6" letter-spacing="0" fill="#1e1e1e" stroke="none" font-size="16.0">2</text>
<line x1="257.8" y1="1248.1" x2="333.5" y2="1234.8"/><circle cx="248.3" cy="1249.8" r="9.6" fill="#fff"/><text x="248.9" y="1254.4" letter-spacing="-1.3" fill="#1e1e1e" stroke="none" font-size="12.5">11</text>
<path d="M624.5 855 V1245 M622 855 H705" fill="none" stroke-width="1"/>
<path d="M624.5 855.0 L626.9 864.0 L622.1 864.0 Z" fill="#222" stroke="none"/><path d="M624.5 1245.0 L622.1 1236.0 L626.9 1236.0 Z" fill="#222" stroke="none"/>
<text x="619.0" y="1043.7" transform="rotate(-90 619.0 1043.7)" fill="#555" stroke="none" font-weight="normal" font-size="14.5" letter-spacing="1.6">2500-3000</text>
<path d="M621.0 1245.0 H702.8 M624.0 1245.0 L619.2 1251.0 M630.5 1245.0 L625.7 1251.0 M637.0 1245.0 L632.2 1251.0 M643.5 1245.0 L638.7 1251.0 M650.0 1245.0 L645.2 1251.0 M656.5 1245.0 L651.7 1251.0 M663.0 1245.0 L658.2 1251.0 M669.5 1245.0 L664.7 1251.0 M676.0 1245.0 L671.2 1251.0 M682.5 1245.0 L677.7 1251.0 M689.0 1245.0 L684.2 1251.0 M695.5 1245.0 L690.7 1251.0 M702.0 1245.0 L697.2 1251.0 " fill="none"/>
<path d="M659.7 933 V1245 M676.1 933 V1245 M667.7 933 V1245" fill="none"/>
<path d="M659.7 1196.7 L636 1241 M676.1 1196.7 L698 1241 M634 1241 H700" fill="none"/>
<rect x="676.1" y="1092" width="7" height="8" fill="#555"/><rect x="676.1" y="1108" width="8" height="14" fill="#fff"/><rect x="685.5" y="1106" width="4" height="18" fill="#444"/>
<g transform="translate(0.0 0)"><path d="M656.2 903 C656.5 893 661 886 669.7 882.3 L693.5 868.9 M679.6 903 C676.5 899 674 896 675.6 893.8 L699.5 880.8 M675.6 894.8 L687.6 887.8 L679.6 901.7" fill="none" stroke-width="1.2"/><rect x="656.2" y="901.7" width="23.4" height="31.3" fill="#fff" stroke-width="1.5"/><path d="M659.7 902 V933 M661.2 902 V933 M665.7 902 V933 M669.7 902 V933 M674.1 902 V933 M677.1 902 V933" fill="none" stroke-width="0.9"/></g>
<use href="#lamp" transform="translate(721.5 873.7) rotate(-31) scale(0.852 0.877)"/>
<g transform="translate(0.0 0)"><path d="M709.5 880 L719.4 895.8 L741.3 882.8 L738.3 868 Z" fill="#fff"/><path d="M691 867.3 L697.5 863.5 L707.5 878.5 L701 882.3 Z" fill="#fff"/><path d="M697.5 863.5 C705 860 715 857 722.4 857.5 L736.3 861 L738.3 868 L707.5 880 Z" fill="#fff" stroke-width="1.2"/><path d="M722 860.5 L729 862 Q733 866 730 869 L725 869.5 Z M714 866 L710 876" fill="none" stroke-width="1.1"/></g>
<rect x="767.2" y="1149.5" width="62.2" height="63.3" fill="none"/>
<path d="M798.3 1149.5 V1212.8 M767.2 1181.2 H829.4" fill="none" stroke-width="2.2"/>
<circle cx="798.3" cy="1181.2" r="7.5" fill="#fff" stroke-width="1.3"/>
<path d="M771.9 1158.7 H780.9 M776.4 1154.2 V1163.2 M771.9 1203.6 H780.9 M776.4 1199.1 V1208.1 M815.7 1158.7 H824.7 M820.2 1154.2 V1163.2 M815.7 1203.6 H824.7 M820.2 1199.1 V1208.1 " fill="none"/>
<text x="719.0" y="1140.5" fill="#555" stroke="none" font-weight="normal" font-size="11.5" text-anchor="start" letter-spacing="2.2">4-&#934;14</text>
<path d="M719.0 1143.5 H760.0 L787.4 1170.7" fill="none" stroke-width="0.9"/>
<path d="M773.4 1157.7 L779.4 1161.7 M777.4 1163.7 L782.4 1167.7" fill="none" stroke-width="1.6"/>
<path d="M820.2 1158.7 H850.4 M820.2 1203.6 H850.4 M829.4 1149.5 H866.4 M829.4 1212.8 H866.4 M845.4 1158.7 V1203.6 M861.4 1149.5 V1212.8" fill="none" stroke-width="0.9"/>
<path d="M845.4 1158.7 L847.0 1163.7 L843.8 1163.7 Z" fill="#222" stroke="none"/><path d="M845.4 1203.6 L843.8 1198.6 L847.0 1198.6 Z" fill="#222" stroke="none"/><path d="M861.4 1149.5 L863.0 1154.5 L859.8 1154.5 Z" fill="#222" stroke="none"/><path d="M861.4 1212.8 L859.8 1207.8 L863.0 1207.8 Z" fill="#222" stroke="none"/>
<text x="842.4" y="1181.2" transform="rotate(-90 842.4 1181.2)" fill="#555" stroke="none" font-weight="normal" font-size="12.5" letter-spacing="0.5">150</text><text x="858.4" y="1181.2" transform="rotate(-90 858.4 1181.2)" fill="#555" stroke="none" font-weight="normal" font-size="12.5" letter-spacing="0.5">200</text>
<path d="M776.4 1212.8 V1232.8 M820.2 1212.8 V1232.8 M767.2 1212.8 V1248.8 M829.4 1212.8 V1248.8 M776.4 1228.8 H820.2 M767.2 1243.8 H829.4" fill="none" stroke-width="0.9"/>
<path d="M776.4 1228.8 L781.4 1227.2 L781.4 1230.4 Z" fill="#222" stroke="none"/><path d="M820.2 1228.8 L815.2 1230.4 L815.2 1227.2 Z" fill="#222" stroke="none"/><path d="M767.2 1243.8 L772.2 1242.2 L772.2 1245.4 Z" fill="#222" stroke="none"/><path d="M829.4 1243.8 L824.4 1245.4 L824.4 1242.2 Z" fill="#222" stroke="none"/>
<text x="798.3" y="1225.8" fill="#555" stroke="none" font-weight="normal" font-size="12.5">150</text><text x="798.3" y="1240.8" fill="#555" stroke="none" font-weight="normal" font-size="12.5">200</text>
<line x1="849.8" y1="896.4" x2="794.8" y2="903.3"/><circle cx="859.3" cy="895.2" r="9.6" fill="#fff"/><text x="859.3" y="900.8" letter-spacing="0" fill="#1e1e1e" stroke="none" font-size="16.0">1</text>
<line x1="751.3" y1="1041.2" x2="670.6" y2="1070.0"/><circle cx="760.3" cy="1038.0" r="9.6" fill="#fff"/><text x="760.9" y="1042.6" letter-spacing="-1.3" fill="#1e1e1e" stroke="none" font-size="12.5">12</text>
<path d="M1077.7 1007.3 V960.0 A60.3 60.3 0 0 1 1197.4 949.5 M1093.0 1007.3 V960.0 A45.0 45.0 0 0 1 1182.3 952.2 " fill="none" stroke-width="1.2"/>
<path d="M1077.7 1007.3 H1093" fill="none"/>
<rect x="1076" y="1014" width="15.7" height="53.5" rx="3" fill="#fff"/>
<rect x="1074" y="1025.5" width="19.5" height="9.8" fill="#fff"/><path d="M1079 1027 L1088 1034 M1088 1027 L1079 1034" fill="none"/>
<path d="M1078 1187.9 V1078 Q1085 1071 1092 1078 V1187.9" fill="none"/>
<path d="M1021.8 1073 H1070.8 M1021.8 1086.5 H1070.8 M1021.8 1162 H1070.8 M1021.8 1175.3 H1070.8" fill="none"/>
<circle cx="1070.8" cy="1080" r="6.8" fill="#fff"/><circle cx="1070.8" cy="1168.6" r="6.8" fill="#fff"/>
<rect x="1059.6" y="1092" width="34.9" height="7.7" fill="#fff"/><rect x="1059.6" y="1150" width="34.9" height="7" fill="#fff"/>
<path d="M1063.8 1099.7 V1195 M1070.8 1099.7 V1150 M1070.8 1175 V1230" fill="none"/>
<rect x="1078" y="1188" width="14" height="7" fill="#444"/>
<path d="M1079 1195 L1076 1205 M1091 1195 L1094 1205" fill="none"/>
<circle cx="1083.3" cy="1215.8" r="12.5" fill="#fff" stroke-width="1.3"/><circle cx="1083.3" cy="1215.8" r="9.5" fill="none"/>
<path d="M1058 1213 H1110 M1058 1218 H1110 M1083.3 1195 V1238" fill="none" stroke-width="1.2"/>
<path d="M1058 1209 V1222 M1061 1209 V1222 M1107 1209 V1222 M1110 1209 V1222" fill="none" stroke-width="1.8"/>
<use href="#lamp" transform="translate(1211.4 967.8) rotate(-30) scale(0.854 0.86)"/>
<g transform="rotate(-25 1204 968)"><rect x="1196" y="962" width="17" height="12" fill="#fff"/><path d="M1196 964.5 H1213 M1196 967 H1213 M1196 969.5 H1213 M1196 972 H1213" stroke-width="1.3" fill="none"/></g>
<rect x="1188" y="948.5" width="28" height="11" fill="#fff" transform="rotate(-20 1202 954)"/>
<line x1="1285.2" y1="944.6" x2="1210.7" y2="957.0"/><circle cx="1294.7" cy="943.0" r="9.6" fill="#fff"/><text x="1294.7" y="948.6" letter-spacing="0" fill="#1e1e1e" stroke="none" font-size="16.0">4</text>
<line x1="1384.5" y1="1028.3" x2="1343.6" y2="1034.0"/><circle cx="1394.0" cy="1027.0" r="9.6" fill="#fff"/><text x="1394.0" y="1032.6" letter-spacing="0" fill="#1e1e1e" stroke="none" font-size="16.0">1</text>
<line x1="1004.6" y1="1060.1" x2="1077.8" y2="1045.0"/><circle cx="995.2" cy="1062.0" r="9.6" fill="#fff"/><text x="995.8" y="1066.6" letter-spacing="-1.3" fill="#1e1e1e" stroke="none" font-size="12.5">10</text>
<line x1="1003.2" y1="1111.6" x2="1063.8" y2="1098.3"/><circle cx="993.8" cy="1113.7" r="9.6" fill="#fff"/><text x="994.4" y="1118.3" letter-spacing="-1.3" fill="#1e1e1e" stroke="none" font-size="12.5">13</text>
<line x1="1122.7" y1="1189.6" x2="1089.0" y2="1190.7"/><circle cx="1132.3" cy="1189.3" r="9.6" fill="#fff"/><text x="1132.3" y="1194.9" letter-spacing="0" fill="#1e1e1e" stroke="none" font-size="16.0">2</text>
<line x1="1004.7" y1="1236.6" x2="1068.0" y2="1225.6"/><circle cx="995.2" cy="1238.2" r="9.6" fill="#fff"/><text x="995.8" y="1242.8" letter-spacing="-1.3" fill="#1e1e1e" stroke="none" font-size="12.5">11</text>
<path d="M262.7 1345.4 V1667.8 M258 1345.4 H373" fill="none" stroke-width="1"/>
<path d="M262.7 1345.4 L265.1 1354.4 L260.3 1354.4 Z" fill="#222" stroke="none"/><path d="M262.7 1667.8 L260.3 1658.8 L265.1 1658.8 Z" fill="#222" stroke="none"/>
<text x="255.0" y="1503.5" transform="rotate(-90 255.0 1503.5)" fill="#555" stroke="none" font-weight="normal" font-size="14.5" letter-spacing="1.6">2500-3000</text>
<path d="M289.6 1452.8 V1407.8 A62.4 62.4 0 0 1 414.1 1401.3 M304.5 1452.8 V1407.8 A47.5 47.5 0 0 1 399.2 1402.8 " fill="none" stroke-width="1.2"/>
<path d="M289.6 1452.8 H304.5" fill="none"/>
<rect x="289.6" y="1460" width="13.4" height="46.6" rx="3" fill="#fff"/>
<rect x="288" y="1470.7" width="16.5" height="12" fill="#fff"/><path d="M292 1473 L300 1481 M300 1473 L292 1481" fill="none"/>
<path d="M289.6 1667 V1521 Q297 1514 304.5 1521 V1667" fill="none"/>
<rect x="304.5" y="1540" width="6" height="7" fill="#555"/><rect x="304.5" y="1553" width="7" height="13" fill="#fff"/><rect x="311.5" y="1551" width="3.5" height="17" fill="#444"/>
<path d="M289.6 1627.5 L270 1667 M304.5 1627.5 L322.4 1667 M297 1627 V1667" fill="none"/>
<path d="M258.0 1667.8 H325.0 M261.0 1667.8 L256.2 1673.8 M267.5 1667.8 L262.7 1673.8 M274.0 1667.8 L269.2 1673.8 M280.5 1667.8 L275.7 1673.8 M287.0 1667.8 L282.2 1673.8 M293.5 1667.8 L288.7 1673.8 M300.0 1667.8 L295.2 1673.8 M306.5 1667.8 L301.7 1673.8 M313.0 1667.8 L308.2 1673.8 M319.5 1667.8 L314.7 1673.8 " fill="none"/>
<path d="M409.0 1561.3 L560.2 1479.6 L560.7 1486.3 L415.7 1570.2 Z" fill="#fff"/>
<path d="M417.4 1556.8 L423.8 1565.5 M425.8 1552.2 L431.8 1560.9 M434.2 1547.7 L439.9 1556.2 M442.6 1543.1 L447.9 1551.6 M451.0 1538.6 L456.0 1546.9 M459.4 1534.1 L464.0 1542.2 M467.8 1529.5 L472.1 1537.6 M476.2 1525.0 L480.1 1532.9 M484.6 1520.4 L488.2 1528.2 M493.0 1515.9 L496.3 1523.6 M501.4 1511.4 L504.3 1518.9 M509.8 1506.8 L512.4 1514.3 M518.2 1502.3 L520.4 1509.6 M526.6 1497.8 L528.5 1504.9 M535.0 1493.2 L536.5 1500.3 M543.4 1488.7 L544.6 1495.6 M551.8 1484.1 L552.6 1491.0 " fill="none" stroke-width="1"/>
<path d="M411.0 1564.8 L560.7 1483.1" fill="none" stroke-width="1.5"/>
<path d="M409 1561.3 C394 1548 392 1520 420 1503 C445 1489 480 1468 500 1460 C512 1452 520 1449 527 1450 C545 1451 552 1462 560.2 1479.6 Z" fill="#fff" stroke-width="1.3"/>
<path d="M418.0 1555.7 Q417.6 1530.3 429.2 1505.0 M427.0 1551.0 Q426.0 1525.0 437.0 1499.0 M436.0 1546.0 Q434.5 1520.0 445.0 1494.0 M449.3 1537.8 Q444.6 1513.9 452.0 1490.0 M460.0 1531.0 Q453.5 1508.0 459.0 1485.0 M470.6 1524.3 Q462.8 1502.2 467.0 1480.0 M482.0 1517.0 Q474.0 1495.5 478.0 1474.0 M492.0 1512.0 Q484.0 1490.0 488.0 1468.0 M502.0 1507.0 Q493.5 1485.0 497.0 1463.0 M513.1 1502.0 Q503.2 1480.5 505.3 1459.0 M524.0 1496.0 Q515.0 1474.5 518.0 1453.0 M535.5 1490.7 Q526.7 1471.3 529.9 1452.0 M544.0 1486.0 Q535.0 1469.2 538.0 1452.5 M552.3 1482.9 Q543.1 1470.0 546.0 1457.0 " fill="none" stroke-width="1.1"/>
<path d="M436.2 1541.0 l0 -8 l8 -4.3 l0 8 M454.4 1531.2 l0 -8 l8 -4.3 l0 8 M472.5 1521.4 l0 -8 l8 -4.3 l0 8 M499.7 1506.6 l0 -8 l8 -4.3 l0 8 M517.9 1496.8 l0 -8 l8 -4.3 l0 8 M536.0 1487.0 l0 -8 l8 -4.3 l0 8 " fill="none" stroke-width="1"/>
<path d="M410.2 1478.4 L419 1500.8 C440 1506 480 1485 497.5 1461.6 L488.5 1439.3 Z" fill="#fff" stroke-width="1.3"/>
<path d="M419.2 1477.4 Q420.6 1488.4 426.9 1499.5 M423.8 1475.1 Q425.3 1486.7 431.8 1498.2 M428.5 1472.9 Q430.1 1484.8 436.7 1496.8 M433.1 1470.6 Q434.9 1482.9 441.6 1495.2 M437.7 1468.4 Q439.6 1481.0 446.5 1493.5 M442.3 1466.1 Q444.4 1478.9 451.4 1491.6 M446.9 1463.9 Q449.1 1476.7 456.3 1489.5 M451.6 1461.7 Q453.9 1474.4 461.2 1487.2 M456.2 1459.4 Q458.7 1472.0 466.2 1484.6 M460.8 1457.2 Q463.4 1469.5 471.1 1481.8 M465.4 1454.9 Q468.2 1466.9 476.0 1478.8 M470.0 1452.7 Q472.9 1464.2 480.9 1475.6 M474.6 1450.4 Q477.7 1461.4 485.8 1472.3 M479.3 1448.2 Q482.5 1458.5 490.7 1468.8 M483.9 1445.9 Q487.2 1455.6 495.6 1465.2 " fill="none" stroke-width="1.25"/>
<path d="M410.2 1477.3 L416.9 1466.1 L471.7 1434.8 L486.3 1434.8 L488.5 1443.7 L414.6 1479.6 Z" fill="#fff" stroke-width="1.3"/>
<path d="M413 1471 L487 1438.5" fill="none" stroke-width="1"/>
<path d="M423.2 1463.5 l3 3.5 M428.3 1461.0 l3 3.5 M433.5 1458.5 l3 3.5 M438.7 1456.0 l3 3.5 M443.8 1453.5 l3 3.5 M449.0 1451.0 l3 3.5 M454.2 1448.5 l3 3.5 M459.3 1446.0 l3 3.5 M464.5 1443.5 l3 3.5 M469.7 1441.0 l3 3.5 M474.8 1438.5 l3 3.5 " fill="none" stroke-width="1.8"/>
<path d="M413.5 1456 L414.6 1427 L433.7 1427 L459.4 1430.3 L471 1436 L416.9 1466 Z" fill="#fff" stroke-width="1.2"/>
<path d="M420 1429 L418 1450 L425 1447 L428 1429 M440 1430 L462 1437 M436 1428 L455 1446" fill="none" stroke-width="1.1"/>
<path d="M411 1455 L418 1461.6 L421 1458 L414 1452 Z" fill="#fff"/>
<path d="M412.4 1418 L427 1411.3 L433.7 1422.5 L419 1429.2 Z" fill="#fff"/>
<path d="M411 1401 L423 1395 L428 1407 L416 1413.5 Z" fill="#333" stroke="none"/>
<path d="M400 1402.3 L423.6 1392.2 L428 1399 L404.6 1411.3 Z" fill="none" stroke-width="1.1"/>
<path d="M419 1412.4 L482.9 1513.1" fill="none" stroke-width="1"/>
<rect x="541.8" y="1603.6" width="62.7" height="62.7" fill="none"/>
<path d="M573.1 1603.6 V1666.3 M541.8 1634.9 H604.5" fill="none" stroke-width="2.2"/>
<circle cx="573.1" cy="1634.9" r="7.5" fill="#fff" stroke-width="1.3"/>
<path d="M546.6 1612.9 H555.6 M551.1 1608.4 V1617.4 M546.6 1657.0 H555.6 M551.1 1652.5 V1661.5 M590.7 1612.9 H599.7 M595.2 1608.4 V1617.4 M590.7 1657.0 H599.7 M595.2 1652.5 V1661.5 " fill="none"/>
<text x="498.5" y="1594.0" fill="#555" stroke="none" font-weight="normal" font-size="11.5" text-anchor="start" letter-spacing="2.2">4-&#934;14</text>
<path d="M498.5 1597.0 H539.5 L562.1 1624.9" fill="none" stroke-width="0.9"/>
<path d="M548.1 1611.9 L554.1 1615.9 M552.1 1617.9 L557.1 1621.9" fill="none" stroke-width="1.6"/>
<path d="M595.2 1612.9 H625.5 M595.2 1657.0 H625.5 M604.5 1603.6 H641.5 M604.5 1666.3 H641.5 M620.5 1612.9 V1657.0 M636.5 1603.6 V1666.3" fill="none" stroke-width="0.9"/>
<path d="M620.5 1612.9 L622.1 1617.9 L618.9 1617.9 Z" fill="#222" stroke="none"/><path d="M620.5 1657.0 L618.9 1652.0 L622.1 1652.0 Z" fill="#222" stroke="none"/><path d="M636.5 1603.6 L638.1 1608.6 L634.9 1608.6 Z" fill="#222" stroke="none"/><path d="M636.5 1666.3 L634.9 1661.3 L638.1 1661.3 Z" fill="#222" stroke="none"/>
<text x="617.5" y="1634.9" transform="rotate(-90 617.5 1634.9)" fill="#555" stroke="none" font-weight="normal" font-size="12.5" letter-spacing="0.5">150</text><text x="633.5" y="1634.9" transform="rotate(-90 633.5 1634.9)" fill="#555" stroke="none" font-weight="normal" font-size="12.5" letter-spacing="0.5">200</text>
<path d="M551.1 1666.3 V1686.3 M595.2 1666.3 V1686.3 M541.8 1666.3 V1702.3 M604.5 1666.3 V1702.3 M551.1 1682.3 H595.2 M541.8 1697.3 H604.5" fill="none" stroke-width="0.9"/>
<path d="M551.1 1682.3 L556.1 1680.7 L556.1 1683.9 Z" fill="#222" stroke="none"/><path d="M595.2 1682.3 L590.2 1683.9 L590.2 1680.7 Z" fill="#222" stroke="none"/><path d="M541.8 1697.3 L546.8 1695.7 L546.8 1698.9 Z" fill="#222" stroke="none"/><path d="M604.5 1697.3 L599.5 1698.9 L599.5 1695.7 Z" fill="#222" stroke="none"/>
<text x="573.1" y="1679.3" fill="#555" stroke="none" font-weight="normal" font-size="12.5">150</text><text x="573.1" y="1694.3" fill="#555" stroke="none" font-weight="normal" font-size="12.5">200</text>
<line x1="492.0" y1="1393.2" x2="420.9" y2="1405.0"/><circle cx="501.5" cy="1391.6" r="9.6" fill="#fff"/><text x="501.5" y="1397.2" letter-spacing="0" fill="#1e1e1e" stroke="none" font-size="16.0">4</text>
<line x1="371.2" y1="1476.9" x2="298.5" y2="1490.0"/><circle cx="380.6" cy="1475.2" r="9.6" fill="#fff"/><text x="381.2" y="1479.8" letter-spacing="-1.3" fill="#1e1e1e" stroke="none" font-size="12.5">12</text>
<line x1="592.0" y1="1465.0" x2="546.3" y2="1458.8"/><circle cx="601.5" cy="1466.3" r="9.6" fill="#fff"/><text x="601.5" y="1471.9" letter-spacing="0" fill="#1e1e1e" stroke="none" font-size="16.0">1</text>
</g>
</svg>
<div class="abs cap" style="left:300px;top:763px">x:吸顶式</div>
<div class="abs cap" style="left:555px;top:764px">g:管吊式</div>
<div class="abs cap" style="left:843px;top:813px">b2:吸壁式安装90°</div>
<div class="abs cap" style="left:1193px;top:813px">b1:吸壁式安装30°</div>
<div class="abs cap" style="left:264px;top:1274px">h1:护栏立杆式</div>
<div class="abs cap" style="left:616px;top:1274px">f1:法兰式</div>
<div class="abs cap" style="left:1027px;top:1274px">h:护栏立杆式</div>
<div class="abs cap" style="left:256px;top:1704px">f:法兰式</div>

</body></html>
